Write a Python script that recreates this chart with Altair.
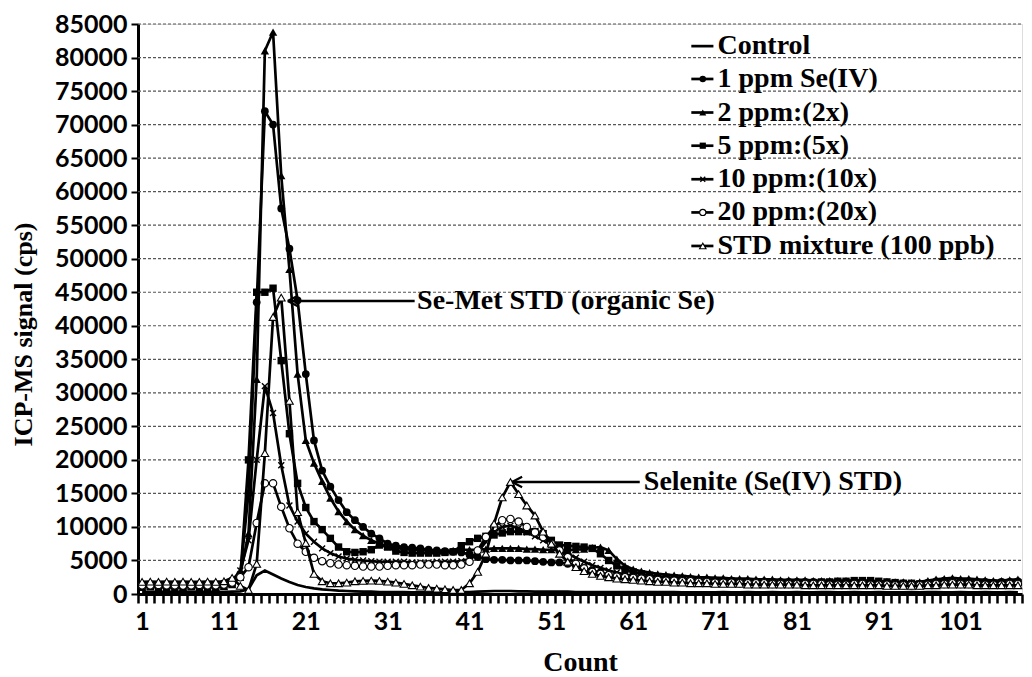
import altair as alt
import pandas as pd

counts = list(range(1, 109))

series_names = ["Control", "1 ppm Se(IV)", "2 ppm:(2x)", "5 ppm:(5x)",
                "10 ppm:(10x)", "20 ppm:(20x)", "STD mixture (100 ppb)"]

control = [300, 250, 300, 300, 250, 300, 300, 250, 300, 300, 300, 350,
           400, 700, 2800, 3500, 2900, 2300, 1800, 1350,
           1050, 850, 700, 600, 500, 450, 400, 350, 350, 300,
           300, 300, 300, 250, 250, 250, 250, 250, 250, 300,
           300, 350, 400, 450, 450, 450, 400, 400, 350, 350,
           350, 350, 350, 300, 300, 300, 300, 300, 300, 300,
           300, 300, 300, 300, 300, 300, 250, 250, 250, 250,
           250, 300, 250, 250, 300, 250, 250, 300, 250, 250,
           300, 250, 250, 300, 300, 250, 250, 300, 250, 250,
           300, 250, 250, 250, 300, 250, 300, 300, 250, 250,
           300, 250, 250, 300, 250, 250, 300, 250]

one_ppm = [1200, 1250, 1200, 1150, 1200, 1250, 1200, 1200, 1150, 1200, 1300, 1600,
           3000, 15000, 43500, 72000, 70000, 57500, 51500, 43800,
           32800, 22900, 18400, 16000, 14000, 12200, 11000, 10000, 9000, 8300,
           7500, 7200, 7000, 6900, 6800, 6600, 6500, 6400, 6300, 6200,
           5900, 5500, 5200, 5100, 5100, 5000, 5000, 5000, 4900, 4800,
           4700, 4700, 4500, 4200, 3900, 3500, 3200, 2900, 2800, 2700,
           2600, 2500, 2500, 2400, 2300, 2300, 2200, 2200, 2100, 2100,
           2000, 2000, 2000, 1900, 1900, 1900, 1900, 1800, 1800, 1800,
           1800, 1800, 1800, 1700, 1700, 1700, 1800, 1800, 1700, 1700,
           1700, 1600, 1600, 1600, 1500, 1500, 1700, 1900, 2000, 2000,
           1900, 1900, 1800, 1800, 1700, 1800, 1800, 1900]

two_ppm = [1000, 1050, 1000, 1000, 950, 1000, 1050, 1000, 1000, 1000, 1100, 1400,
           3000, 9000, 32000, 81000, 83800, 62400, 48400, 32800,
           22900, 19500, 16800, 14300, 12300, 10800, 9600, 8700, 8000, 7500,
           7100, 6900, 6700, 6600, 6500, 6500, 6400, 6400, 6500, 6600,
           6600, 6600, 6700, 6800, 6800, 6800, 6800, 6700, 6700, 6600,
           6600, 6600, 6500, 6600, 6700, 6900, 7000, 6500, 5200, 4200,
           3700, 3400, 3200, 3000, 2900, 2800, 2700, 2600, 2500, 2500,
           2400, 2400, 2300, 2300, 2300, 2200, 2200, 2200, 2100, 2100,
           2100, 2100, 2000, 2000, 2000, 2000, 2000, 2000, 2000, 1900,
           1900, 1900, 1800, 1800, 1700, 1800, 2000, 2200, 2300, 2400,
           2300, 2300, 2200, 2100, 2000, 2000, 2100, 2200]

five_ppm = [1100, 1100, 1150, 1100, 1100, 1050, 1100, 1100, 1150, 1100, 1200, 1500,
            2500, 20000, 45000, 45000, 45600, 34800, 23900, 16500,
            12900, 10800, 9600, 8300, 7000, 6300, 6200, 6300, 6600, 7300,
            7000, 6400, 6200, 6100, 6100, 6100, 6100, 6200, 6300, 7200,
            7800, 8300, 8600, 8800, 9100, 9300, 9300, 9300, 9300, 9000,
            8000, 7300, 7200, 7100, 7000, 6800, 6000, 5000, 4200, 3700,
            3300, 3000, 2800, 2600, 2500, 2400, 2300, 2200, 2100, 2000,
            2000, 1900, 1900, 1800, 1800, 1800, 1700, 1700, 1700, 1700,
            1700, 1700, 1700, 1800, 1800, 1900, 1900, 2000, 2000, 2000,
            1900, 1800, 1700, 1600, 1600, 1500, 1500, 1600, 1700, 1700,
            1700, 1700, 1600, 1600, 1600, 1700, 1700, 1700]

ten_ppm = [1400, 1450, 1400, 1400, 1500, 1400, 1450, 1400, 1400, 1500, 1600, 2000,
           3500, 8000, 20000, 31000, 27000, 19200, 13200, 10800,
           9000, 7800, 6800, 6100, 5600, 5300, 5100, 5000, 4900, 4800,
           4800, 4800, 4800, 4700, 4700, 4700, 4800, 4800, 4800, 4900,
           5200, 6200, 7800, 9300, 10000, 10200, 9800, 9200, 8600, 8000,
           7300, 6600, 6000, 5400, 4800, 4300, 3900, 3500, 3200, 2900,
           2700, 2500, 2400, 2300, 2200, 2100, 2000, 2000, 1900, 1900,
           1800, 1800, 1800, 1700, 1700, 1700, 1700, 1600, 1600, 1600,
           1600, 1600, 1600, 1500, 1500, 1500, 1600, 1600, 1500, 1500,
           1500, 1500, 1400, 1400, 1400, 1400, 1500, 1600, 1700, 1700,
           1600, 1600, 1600, 1500, 1500, 1500, 1600, 1600]

twenty_ppm = [1300, 1300, 1350, 1300, 1300, 1250, 1300, 1350, 1300, 1300, 1400, 1700,
              2500, 4000, 10600, 16500, 16500, 13000, 9800, 7500,
              6300, 5400, 4900, 4600, 4400, 4300, 4200, 4100, 4100, 4100,
              4200, 4300, 4300, 4300, 4400, 4400, 4400, 4300, 4300, 4400,
              4800, 6500, 8500, 10000, 11000, 11200, 10800, 10000, 9200, 8500,
              7500, 6500, 5500, 4500, 3800, 3300, 3000, 2800, 2600, 2500,
              2400, 2300, 2200, 2100, 2000, 2000, 1900, 1900, 1800, 1800,
              1700, 1700, 1700, 1600, 1600, 1600, 1600, 1500, 1500, 1500,
              1500, 1500, 1500, 1500, 1400, 1400, 1400, 1500, 1500, 1400,
              1400, 1400, 1300, 1300, 1300, 1300, 1400, 1500, 1500, 1600,
              1500, 1500, 1500, 1400, 1400, 1400, 1500, 1500]

std_mix = [1800, 1850, 1800, 1850, 1800, 1850, 1800, 1800, 1850, 1800, 1900, 2400,
           1200, 600, 4500, 21000, 41300, 44200, 28800, 12200,
           7600, 3000, 1900, 1600, 1600, 1700, 1900, 1950, 2000, 1950,
           1850, 1700, 1500, 1300, 1100, 900, 800, 700, 600, 600,
           1600, 3300, 6000, 10500, 14400, 16700, 14900, 13200, 11700, 9300,
           7500, 6000, 4800, 4000, 3400, 3000, 2700, 2500, 2300, 2200,
           2100, 2000, 1900, 1800, 1800, 1700, 1700, 1600, 1600, 1600,
           1500, 1500, 1500, 1500, 1400, 1400, 1400, 1400, 1400, 1400,
           1400, 1300, 1300, 1300, 1300, 1300, 1300, 1300, 1300, 1300,
           1300, 1200, 1200, 1200, 1200, 1200, 1300, 1300, 1400, 1400,
           1400, 1400, 1300, 1300, 1300, 1300, 1300, 1300]

y_ticks = list(range(0, 85001, 5000))
x_label_counts = [1, 11, 21, 31, 41, 51, 61, 71, 81, 91, 101]

annotations = ["Se-Met STD (organic Se)", "Selenite (Se(IV) STD)"]
annot_tip_x = [18.8, 46.2]
annot_line_end_x = [34.3, 61.8]
annot_text_x = [34.6, 62.3]
annot_y = [43700, 16700]

legend_y = [81700, 76800, 71800, 66850, 61850, 56900, 51900]
legend_x1, legend_xm, legend_x2, legend_xt = 68.1, 69.5, 70.8, 71.3

all_values = [control, one_ppm, two_ppm, five_ppm, ten_ppm, twenty_ppm, std_mix]
rows = []
for name, vals in zip(series_names, all_values):
    for c, v in zip(counts, vals):
        rows.append({"series": name, "count": c, "signal": v})
df = pd.DataFrame(rows)

leg_df = pd.DataFrame({"series": series_names, "signal": legend_y,
                       "x1": [legend_x1] * 7, "xm": [legend_xm] * 7,
                       "x2": [legend_x2] * 7, "xt": [legend_xt] * 7})
ann_df = pd.DataFrame({"text": annotations, "tip": annot_tip_x,
                       "end": annot_line_end_x, "tx": annot_text_x, "signal": annot_y})
grid_df = pd.DataFrame({"signal": y_ticks[1:],
                        "gx1": [0.5] * (len(y_ticks) - 1),
                        "gx2": [len(counts) + 0.5] * (len(y_ticks) - 1)})

SERIF = "Liberation Serif"
SANS = "Lato"
N = len(counts)
PLOT_W, PLOT_H = 884, 570

xscale = alt.Scale(domain=[0.5, N + 0.5], nice=False, zero=False)
yscale = alt.Scale(domain=[0, 85000], nice=False, zero=True)

x_axis = alt.Axis(
    values=[i + 0.5 for i in range(0, N + 1)],
    labelExpr="(datum.value - 0.5) % 10 == 0 ? format(datum.value + 0.5, 'd') : ''",
    labelOffset=4.1, labelFlush=False, labelOverlap=False,
    labelFont=SANS, labelFontWeight="bold", labelFontSize=25, labelColor="black",
    labelPadding=6, tickSize=9, tickWidth=2.5, tickColor="black",
    domainColor="black", domainWidth=3, grid=False,
    title="Count", titleFont=SERIF, titleFontWeight="bold", titleFontSize=28,
    titleColor="black", titleY=68, titleBaseline="middle")

y_axis = alt.Axis(
    values=y_ticks, format="d", labelFont=SANS, labelFontWeight="bold",
    labelFontSize=25, labelColor="black", labelPadding=4,
    tickSize=7, tickWidth=2, tickColor="black",
    domainColor="black", domainWidth=3, grid=False,
    title="ICP-MS signal (cps)", titleFont=SERIF, titleFontWeight="bold",
    titleFontSize=26, titleColor="black", titleX=-115, titleY=310,
    titleBaseline="middle")


def X(field):
    return alt.X(field, type="quantitative", scale=xscale, axis=x_axis, title="Count")


def Y(field="signal"):
    return alt.Y(field, type="quantitative", scale=yscale, axis=y_axis,
                 title="ICP-MS signal (cps)")


styles = {
    "1 ppm Se(IV)": dict(shape="circle", filled=True, fill="black", size=60),
    "2 ppm:(2x)": dict(shape="triangle-up", filled=True, fill="black", size=70),
    "5 ppm:(5x)": dict(shape="square", filled=True, fill="black", size=55),
    "10 ppm:(10x)": dict(shape="M-1,-1L1,1M-1,1L1,-1", filled=False, size=35, strokeWidth=1.4),
    "20 ppm:(20x)": dict(shape="circle", filled=True, fill="white", stroke="black", strokeWidth=1.1, size=55),
    "STD mixture (100 ppb)": dict(shape="triangle-up", filled=True, fill="white", stroke="black", strokeWidth=1.1, size=60),
}

layers = []
# dotted horizontal gridlines
layers.append(alt.Chart(grid_df).mark_rule(color="#555555", strokeWidth=1.2, strokeDash=[3, 2]).encode(
    x=X("gx1"), x2="gx2:Q", y=Y()))

for name in series_names:
    sub = alt.Chart(df).transform_filter(alt.datum.series == name)
    layers.append(sub.mark_line(color="black", strokeWidth=2.7).encode(x=X("count"), y=Y()))
    if name in styles:
        st = dict(styles[name])
        if not st.get("filled", True):
            st["color"] = "black"
        layers.append(sub.mark_point(opacity=1, **st).encode(x=X("count"), y=Y()))

# legend
leg = alt.Chart(leg_df)
layers.append(leg.mark_rule(color="black", strokeWidth=2.7).encode(
    x=X("x1"), x2="x2:Q", y=Y()))
for name in series_names:
    if name in styles:
        st = dict(styles[name])
        st["size"] = st["size"] * 0.7
        if not st.get("filled", True):
            st["color"] = "black"
        layers.append(leg.transform_filter(alt.datum.series == name).mark_point(opacity=1, **st).encode(
            x=X("xm"), y=Y()))
layers.append(leg.mark_text(align="left", baseline="middle", font=SERIF, fontWeight="bold",
                            fontSize=28, color="black").encode(
    x=X("xt"), y=Y(), text="series:N"))

# annotations
ann = alt.Chart(ann_df)
layers.append(ann.mark_rule(color="black", strokeWidth=2.5).encode(
    x=X("tip"), x2="end:Q", y=Y()))
layers.append(ann.mark_point(shape="M0,0L1.7,-0.9M0,0L1.7,0.9", filled=False, color="black",
                             strokeWidth=2.2, size=140, opacity=1).encode(
    x=X("tip"), y=Y()))
layers.append(ann.mark_text(align="left", baseline="middle", font=SERIF, fontWeight="bold",
                            fontSize=28, color="black").encode(
    x=X("tx"), y=Y(), text="text:N"))

chart = alt.layer(*layers).properties(
    width=PLOT_W, height=PLOT_H,
    autosize=alt.AutoSizeParams(type="none"),
    padding={"left": 130, "top": 16, "right": 2, "bottom": 82},
).configure_view(strokeWidth=0).configure(background="white")

chart.save("out.html", embed_options={"renderer": "svg", "actions": False})
